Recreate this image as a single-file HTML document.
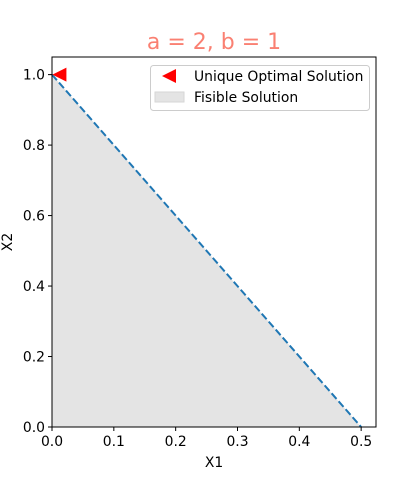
<!DOCTYPE html>
<html><head><meta charset="utf-8"><style>
body{margin:0;background:#fff}
svg{display:block;font-family:"DejaVu Sans","Liberation Sans",sans-serif}
</style></head><body>
<svg id="chart" width="418" height="480"></svg>
<script>
const xTicks=[0.0,0.1,0.2,0.3,0.4,0.5];
const yTicks=[0.0,0.2,0.4,0.6,0.8,1.0];
const constraintX=[0,0.5];
const constraintY=[1,0];
const feasibleX=[0,0.5,0];
const feasibleY=[1,0,0];
const optimalX=[0.012];
const optimalY=[1.0];
const L=52,R=376,T=57,B=427,xMax=0.524,yMax=1.05;
const sx=v=>L+v/xMax*(R-L), sy=v=>B-v/yMax*(B-T);
const svg=document.getElementById('chart');
const NS='http://www.w3.org/2000/svg';
function mk(tag,attrs,parent){const e=document.createElementNS(NS,tag);for(const k in attrs)e.setAttribute(k,attrs[k]);(parent||svg).appendChild(e);return e;}
let p=mk('polygon',{points:feasibleX.map((x,i)=>sx(x)+','+sy(feasibleY[i])).join(' '),fill:'#e4e4e4'});


let ln=mk('polyline',{points:constraintX.map((x,i)=>sx(x)+','+sy(constraintY[i])).join(' '),fill:'none',stroke:'#1f77b4','stroke-width':2,'stroke-dasharray':'7.4,3.2'});


optimalX.forEach((x,i)=>{const cx=sx(x),cy=sy(optimalY[i]);
 let m=mk('polygon',{points:`${cx-7},${cy} ${cx+7},${cy-7} ${cx+7},${cy+7}`,fill:'red'});
 
 });
let fr=mk('rect',{x:L,y:T,width:R-L,height:B-T,fill:'none',stroke:'#000','stroke-width':1});


xTicks.forEach(v=>{const x=sx(v);mk('line',{x1:x,x2:x,y1:B,y2:B+4,stroke:'#000'});
 let t=mk('text',{x:x,y:B+19,'text-anchor':'middle','font-size':13.9});t.textContent=v.toFixed(1);
 
 });
yTicks.forEach(v=>{const y=sy(v);mk('line',{x1:L,x2:L-4,y1:y,y2:y,stroke:'#000'});
 let t=mk('text',{x:L-7,y:y+5,'text-anchor':'end','font-size':13.9});t.textContent=v.toFixed(1);
 
 });
let xt=mk('text',{x:(L+R)/2,y:467,'text-anchor':'middle','font-size':13.9});xt.textContent='X1';


let yt=mk('text',{x:12,y:(T+B)/2,'text-anchor':'middle','font-size':13.9,transform:`rotate(-90 12 ${(T+B)/2})`});yt.textContent='X2';


let ti=mk('text',{x:(L+R)/2,y:49,'text-anchor':'middle','font-size':22,fill:'#fa8072'});ti.textContent='a = 2, b = 1';


let lg=mk('g',{});


mk('rect',{x:150.5,y:65.5,width:219,height:45,rx:3,fill:'#fff',stroke:'#ccc'},lg);
mk('polygon',{points:'162,76 176,69 176,83',fill:'red'},lg);
let l1=mk('text',{x:194,y:81,'font-size':13.9},lg);l1.textContent='Unique Optimal Solution';


mk('rect',{x:155,y:92,width:29,height:10,fill:'#e4e4e4',stroke:'#d6d6d6'},lg);
let l2=mk('text',{x:194,y:102,'font-size':13.9},lg);l2.textContent='Fisible Solution';


</script>
</body></html>
